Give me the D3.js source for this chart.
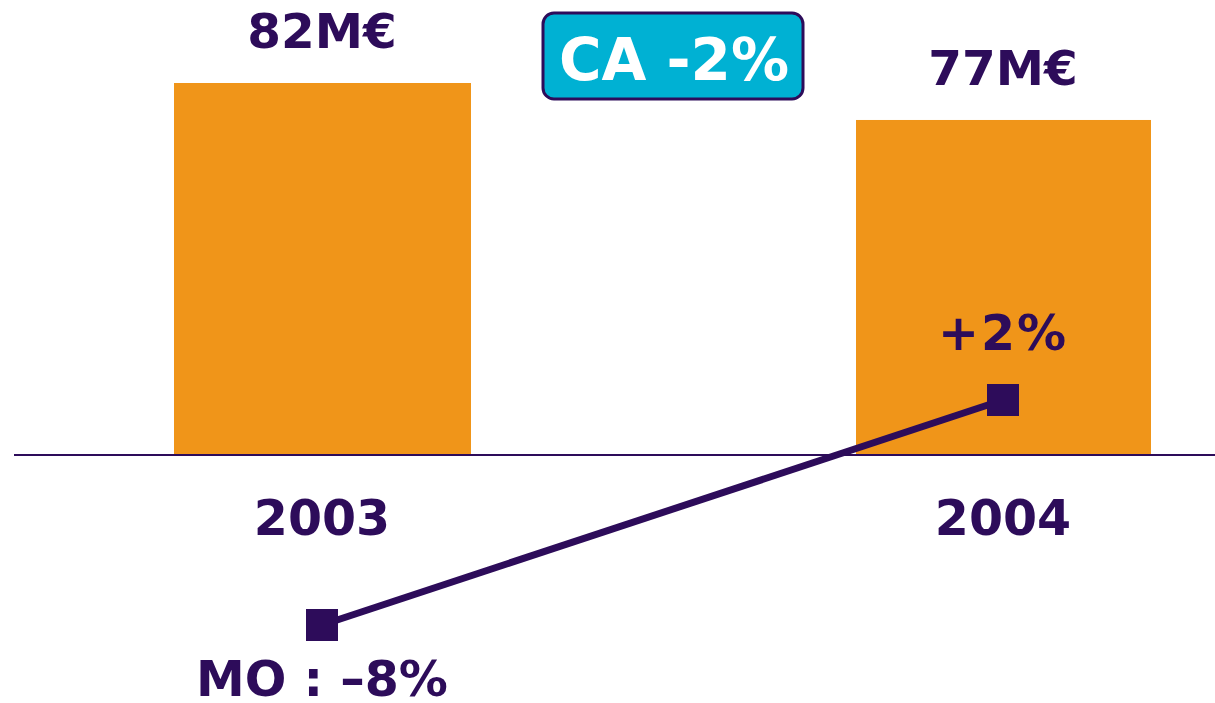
<!DOCTYPE html>
<html>
<head>
<meta charset="utf-8">
<script src="https://cdn.jsdelivr.net/npm/d3@7"></script>
<style>
  body { margin: 0; background: #fff; }
  text { font-family: "DejaVu Sans", sans-serif; font-weight: bold; }
</style>
</head>
<body>
<div id="chart"></div>
<script>
  // data
  const years = ["2003", "2004"];
  const caValues = [82, 77];
  const caLabels = ["82M€", "77M€"];
  const moValues = [-8, 2];
  const moLabels = ["MO : –8%", "+2%"];
  const badgeText = "CA -2%";

  const width = 1215, height = 703;
  const purple = "#2d0c5a", orange = "#f09519", cyan = "#00b1d3";

  const svg = d3.select("#chart").append("svg")
    .attr("width", width).attr("height", height);

  const xPos = d3.scalePoint().domain(years).range([322, 1003]);

  // bar scale (axis does not start at zero)
  const yBar = d3.scaleLinear().domain([31.7, 82]).range([455, 83]);
  // margin line scale
  const yLine = d3.scaleLinear().domain([-8, 2]).range([625, 400]);

  const barW = [297, 295];

  svg.selectAll("rect.bar")
    .data(caValues)
    .join("rect")
    .attr("class", "bar")
    .attr("x", (d, i) => xPos(years[i]) - 148 + (i ? 1 : 0))
    .attr("width", (d, i) => barW[i])
    .attr("y", d => yBar(d))
    .attr("height", d => yBar.range()[0] - yBar(d))
    .attr("fill", orange);

  // baseline
  svg.append("line")
    .attr("x1", 14).attr("x2", width)
    .attr("y1", 455).attr("y2", 455)
    .attr("stroke", purple).attr("stroke-width", 2);

  // bar value labels
  svg.selectAll("text.ca")
    .data(caLabels)
    .join("text")
    .attr("class", "ca")
    .attr("x", (d, i) => xPos(years[i]))
    .attr("y", (d, i) => yBar(caValues[i]) - 35)
    .attr("text-anchor", "middle")
    .attr("font-size", 48.5)
    .attr("fill", purple)
    .text(d => d);

  // year labels
  svg.selectAll("text.year")
    .data(years)
    .join("text")
    .attr("class", "year")
    .attr("x", d => xPos(d))
    .attr("y", 535)
    .attr("text-anchor", "middle")
    .attr("font-size", 49)
    .attr("fill", purple)
    .text(d => d);

  // margin line
  const line = d3.line()
    .x((d, i) => xPos(years[i]))
    .y(d => yLine(d));

  svg.append("path")
    .datum(moValues)
    .attr("d", line)
    .attr("fill", "none")
    .attr("stroke", purple)
    .attr("stroke-width", 7);

  svg.selectAll("rect.marker")
    .data(moValues)
    .join("rect")
    .attr("class", "marker")
    .attr("x", (d, i) => xPos(years[i]) - 16)
    .attr("y", d => yLine(d) - 16)
    .attr("width", 32).attr("height", 32)
    .attr("fill", purple);

  svg.selectAll("text.mo")
    .data(moLabels)
    .join("text")
    .attr("class", "mo")
    .attr("x", (d, i) => xPos(years[i]))
    .attr("y", (d, i) => i ? yLine(moValues[i]) - 50 : yLine(moValues[i]) + 71)
    .attr("text-anchor", "middle")
    .attr("font-size", 49)
    .attr("letter-spacing", (d, i) => i ? 2 : 0)
    .attr("fill", purple)
    .text(d => d);

  // badge
  const badge = svg.append("g");
  badge.append("rect")
    .attr("x", 543).attr("y", 13)
    .attr("width", 260).attr("height", 86)
    .attr("rx", 11)
    .attr("fill", cyan)
    .attr("stroke", purple).attr("stroke-width", 3);
  badge.append("text")
    .attr("x", 674).attr("y", 80)
    .attr("text-anchor", "middle")
    .attr("font-size", 58)
    .attr("fill", "#fff")
    .text(badgeText);
</script>
</body>
</html>
